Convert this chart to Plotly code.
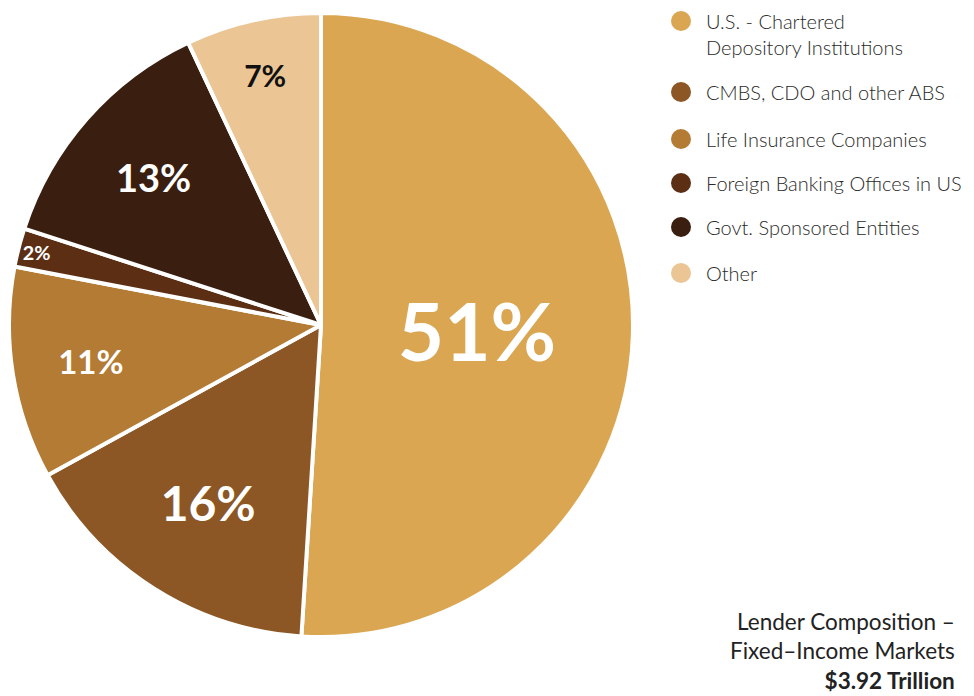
import plotly.graph_objects as go

# Lender composition, fixed-income markets ($3.92 trillion)
labels = [
    "U.S. - Chartered<br>Depository Institutions",
    "CMBS, CDO and other ABS",
    "Life Insurance Companies",
    "Foreign Banking Offices in US",
    "Govt. Sponsored Entities",
    "Other",
]
shares = [51, 16, 11, 2, 13, 7]
colors = ["#DBA651", "#8C5724", "#B37B34", "#5C2F15", "#3A1E0F", "#EBC594"]
label_colors = ["white", "white", "white", "white", "white", "#111111"]
label_sizes = [80, 48, 33, 22, 38, 30]

W, H = 974, 696
OFF = 8  # page body margin, positions below are window pixels


def px(x):
    return (x - OFF) / W


def py(y):
    return 1 - (y - OFF) / H


fig = go.Figure(
    go.Pie(
        labels=labels,
        values=shares,
        sort=False,
        direction="clockwise",
        rotation=0,
        marker=dict(colors=colors, line=dict(color="white", width=4)),
        texttemplate="%{value}%",
        textposition="inside",
        insidetextorientation="horizontal",
        insidetextfont=dict(family="Lato", color=label_colors, size=label_sizes, weight=700),
        hovertemplate="%{label}: %{value}%<extra></extra>",
        domain=dict(x=[px(9), px(633)], y=[py(637), py(13)]),
        showlegend=False,
    )
)

# Hand-drawn legend with round swatches
legend_y = [21, 92, 139, 183, 227, 273]
shapes, annotations = [], []
for name, col, y in zip(labels, colors, legend_y):
    r = 10
    shapes.append(dict(
        type="circle", xref="paper", yref="paper",
        x0=px(681 - r), x1=px(681 + r),
        y0=py(y + r), y1=py(y - r),
        fillcolor=col, line=dict(width=0),
    ))
    annotations.append(dict(
        text=name, xref="paper", yref="paper",
        x=px(704), y=py(y - 14), xanchor="left", yanchor="top",
        align="left", showarrow=False,
        font=dict(family="Lato", size=20, color="#2a2a2a", weight=300),
    ))

annotations.append(dict(
    text="Lender Composition –<br>Fixed–Income Markets<br><b>$3.92 Trillion</b>",
    xref="paper", yref="paper", x=px(957), y=py(606),
    xanchor="right", yanchor="top", align="right", showarrow=False,
    font=dict(family="Lato", size=22.5, color="#222222"),
))

fig.update_layout(
    width=W, height=H,
    margin=dict(l=0, r=0, t=0, b=0),
    paper_bgcolor="white",
    plot_bgcolor="white",
    shapes=shapes,
    annotations=annotations,
)

fig.write_html("out.html")
